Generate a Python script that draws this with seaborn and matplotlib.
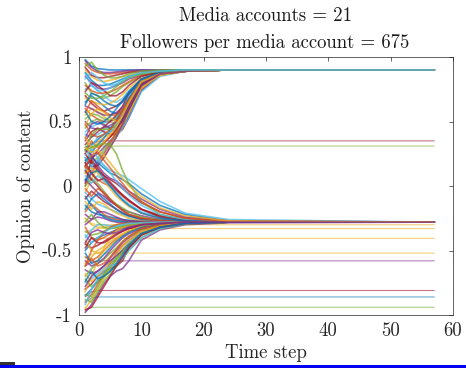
import numpy as np
import pandas as pd
import matplotlib.pyplot as plt
import seaborn as sns
from matplotlib.patches import Rectangle

steps = [1, 2, 3, 4, 5, 6, 7, 8, 10, 13, 17, 24, 57]

# paths that end in the upper cluster (~0.9)
top_paths = [
    [0.98, 0.93, 0.91, 0.905, 0.90, 0.90, 0.90, 0.90, 0.90, 0.90, 0.90, 0.90, 0.90],
    [0.95, 0.90, 0.88, 0.87, 0.87, 0.875, 0.88, 0.885, 0.89, 0.895, 0.90, 0.90, 0.90],
    [0.90, 0.85, 0.82, 0.81, 0.82, 0.83, 0.85, 0.86, 0.88, 0.89, 0.90, 0.90, 0.90],
    [0.85, 0.80, 0.76, 0.75, 0.76, 0.78, 0.80, 0.83, 0.86, 0.885, 0.895, 0.90, 0.90],
    [0.80, 0.72, 0.70, 0.68, 0.70, 0.73, 0.77, 0.80, 0.85, 0.88, 0.895, 0.90, 0.90],
    [0.75, 0.78, 0.74, 0.70, 0.66, 0.65, 0.68, 0.74, 0.82, 0.87, 0.89, 0.90, 0.90],
    [0.70, 0.64, 0.60, 0.58, 0.60, 0.62, 0.66, 0.72, 0.81, 0.87, 0.89, 0.90, 0.90],
    [0.65, 0.70, 0.66, 0.62, 0.58, 0.56, 0.58, 0.65, 0.78, 0.86, 0.89, 0.90, 0.90],
    [0.60, 0.55, 0.52, 0.50, 0.50, 0.52, 0.57, 0.66, 0.80, 0.87, 0.89, 0.90, 0.90],
    [0.55, 0.60, 0.58, 0.54, 0.50, 0.48, 0.50, 0.60, 0.78, 0.86, 0.89, 0.90, 0.90],
    [0.50, 0.45, 0.44, 0.45, 0.47, 0.50, 0.55, 0.63, 0.79, 0.87, 0.89, 0.90, 0.90],
    [0.45, 0.50, 0.52, 0.48, 0.44, 0.42, 0.45, 0.55, 0.76, 0.86, 0.89, 0.90, 0.90],
    [0.40, 0.38, 0.40, 0.43, 0.46, 0.48, 0.52, 0.60, 0.78, 0.87, 0.89, 0.90, 0.90],
    [0.35, 0.42, 0.45, 0.42, 0.40, 0.40, 0.44, 0.53, 0.75, 0.86, 0.89, 0.90, 0.90],
    [0.30, 0.32, 0.36, 0.40, 0.42, 0.45, 0.50, 0.58, 0.77, 0.87, 0.89, 0.90, 0.90],
    [0.25, 0.35, 0.30, 0.33, 0.38, 0.42, 0.48, 0.56, 0.76, 0.86, 0.89, 0.90, 0.90],
    [0.20, 0.28, 0.34, 0.38, 0.40, 0.43, 0.47, 0.55, 0.75, 0.86, 0.89, 0.90, 0.90],
    [0.15, 0.22, 0.25, 0.30, 0.35, 0.40, 0.46, 0.54, 0.74, 0.86, 0.89, 0.90, 0.90],
    [0.10, 0.18, 0.22, 0.28, 0.34, 0.40, 0.48, 0.57, 0.77, 0.87, 0.89, 0.90, 0.90],
    [0.05, 0.12, 0.20, 0.26, 0.32, 0.38, 0.45, 0.53, 0.73, 0.85, 0.89, 0.90, 0.90],
    [0.92, 0.86, 0.84, 0.84, 0.85, 0.86, 0.87, 0.88, 0.89, 0.895, 0.90, 0.90, 0.90],
    [0.88, 0.82, 0.78, 0.78, 0.79, 0.81, 0.83, 0.85, 0.87, 0.89, 0.90, 0.90, 0.90],
    [0.78, 0.74, 0.72, 0.72, 0.73, 0.75, 0.78, 0.81, 0.86, 0.885, 0.895, 0.90, 0.90],
    [0.68, 0.66, 0.64, 0.63, 0.64, 0.67, 0.71, 0.76, 0.83, 0.875, 0.895, 0.90, 0.90],
    [0.62, 0.60, 0.57, 0.55, 0.55, 0.57, 0.61, 0.68, 0.80, 0.87, 0.89, 0.90, 0.90],
    [0.52, 0.56, 0.55, 0.52, 0.51, 0.53, 0.58, 0.67, 0.81, 0.87, 0.89, 0.90, 0.90],
    [0.42, 0.46, 0.48, 0.49, 0.50, 0.54, 0.60, 0.70, 0.82, 0.87, 0.89, 0.90, 0.90],
    [0.32, 0.38, 0.42, 0.46, 0.50, 0.55, 0.62, 0.72, 0.83, 0.88, 0.89, 0.90, 0.90],
    [0.18, 0.26, 0.32, 0.37, 0.44, 0.51, 0.59, 0.68, 0.81, 0.87, 0.89, 0.90, 0.90],
    [0.00, 0.10, 0.18, 0.25, 0.33, 0.42, 0.52, 0.62, 0.79, 0.87, 0.89, 0.90, 0.90],
    [-0.05, 0.05, 0.15, 0.22, 0.30, 0.38, 0.47, 0.57, 0.76, 0.86, 0.89, 0.90, 0.90],
    [0.97, 0.92, 0.89, 0.88, 0.88, 0.885, 0.89, 0.895, 0.90, 0.90, 0.90, 0.90, 0.90],
    [0.93, 0.96, 0.90, 0.86, 0.84, 0.84, 0.85, 0.87, 0.89, 0.90, 0.90, 0.90, 0.90],
    [0.83, 0.88, 0.84, 0.80, 0.78, 0.79, 0.81, 0.84, 0.87, 0.89, 0.90, 0.90, 0.90],
    [0.73, 0.80, 0.78, 0.74, 0.70, 0.70, 0.73, 0.78, 0.85, 0.885, 0.895, 0.90, 0.90],
    [0.63, 0.72, 0.70, 0.66, 0.63, 0.62, 0.65, 0.71, 0.82, 0.875, 0.895, 0.90, 0.90],
    [0.57, 0.66, 0.62, 0.58, 0.55, 0.55, 0.59, 0.66, 0.80, 0.87, 0.89, 0.90, 0.90],
    [0.47, 0.56, 0.60, 0.57, 0.53, 0.50, 0.53, 0.61, 0.78, 0.86, 0.89, 0.90, 0.90],
    [0.37, 0.48, 0.50, 0.47, 0.45, 0.46, 0.51, 0.60, 0.78, 0.87, 0.89, 0.90, 0.90],
    [0.27, 0.40, 0.44, 0.44, 0.44, 0.47, 0.53, 0.63, 0.80, 0.87, 0.89, 0.90, 0.90],
    [0.12, 0.30, 0.38, 0.40, 0.42, 0.46, 0.53, 0.63, 0.80, 0.87, 0.89, 0.90, 0.90],
    [0.02, 0.20, 0.28, 0.34, 0.38, 0.44, 0.52, 0.62, 0.79, 0.87, 0.89, 0.90, 0.90],
    [0.58, 0.50, 0.48, 0.50, 0.54, 0.60, 0.66, 0.73, 0.83, 0.88, 0.895, 0.90, 0.90],
    [0.48, 0.40, 0.38, 0.40, 0.44, 0.50, 0.58, 0.67, 0.81, 0.87, 0.89, 0.90, 0.90],
    [0.38, 0.30, 0.30, 0.34, 0.40, 0.46, 0.55, 0.65, 0.81, 0.87, 0.89, 0.90, 0.90],
    [0.22, 0.15, 0.16, 0.22, 0.30, 0.38, 0.48, 0.59, 0.78, 0.87, 0.89, 0.90, 0.90],
    [0.72, 0.68, 0.68, 0.70, 0.73, 0.77, 0.81, 0.84, 0.87, 0.89, 0.90, 0.90, 0.90],
    [0.87, 0.78, 0.74, 0.74, 0.76, 0.79, 0.82, 0.85, 0.88, 0.89, 0.90, 0.90, 0.90],
]

# paths that end in the lower cluster (~-0.28)
bottom_paths = [
    [0.25, 0.18, 0.12, 0.08, 0.05, 0.02, -0.02, -0.06, -0.13, -0.20, -0.25, -0.275, -0.28],
    [0.20, 0.22, 0.18, 0.14, 0.10, 0.08, 0.05, 0.02, -0.06, -0.15, -0.22, -0.27, -0.28],
    [0.15, 0.10, 0.05, 0.02, 0.00, -0.04, -0.08, -0.12, -0.18, -0.23, -0.26, -0.275, -0.28],
    [0.10, 0.14, 0.10, 0.04, -0.02, -0.08, -0.12, -0.16, -0.21, -0.25, -0.27, -0.28, -0.28],
    [0.05, 0.00, -0.05, -0.08, -0.12, -0.15, -0.18, -0.20, -0.23, -0.26, -0.275, -0.28, -0.28],
    [0.00, 0.06, 0.02, -0.04, -0.10, -0.14, -0.17, -0.20, -0.24, -0.265, -0.275, -0.28, -0.28],
    [-0.05, -0.10, -0.14, -0.16, -0.18, -0.20, -0.22, -0.24, -0.26, -0.27, -0.28, -0.28, -0.28],
    [-0.10, -0.04, -0.08, -0.12, -0.15, -0.18, -0.21, -0.23, -0.255, -0.27, -0.28, -0.28, -0.28],
    [-0.15, -0.20, -0.22, -0.23, -0.24, -0.25, -0.26, -0.265, -0.27, -0.28, -0.28, -0.28, -0.28],
    [-0.20, -0.14, -0.18, -0.22, -0.25, -0.26, -0.27, -0.275, -0.28, -0.28, -0.28, -0.28, -0.28],
    [-0.25, -0.30, -0.32, -0.32, -0.31, -0.30, -0.295, -0.29, -0.285, -0.28, -0.28, -0.28, -0.28],
    [-0.30, -0.26, -0.24, -0.25, -0.27, -0.28, -0.285, -0.285, -0.283, -0.28, -0.28, -0.28, -0.28],
    [-0.35, -0.38, -0.37, -0.35, -0.33, -0.32, -0.31, -0.30, -0.29, -0.285, -0.28, -0.28, -0.28],
    [-0.40, -0.34, -0.30, -0.30, -0.31, -0.31, -0.30, -0.295, -0.29, -0.285, -0.28, -0.28, -0.28],
    [-0.45, -0.48, -0.46, -0.43, -0.40, -0.37, -0.35, -0.33, -0.31, -0.29, -0.285, -0.28, -0.28],
    [-0.50, -0.44, -0.40, -0.38, -0.36, -0.34, -0.33, -0.32, -0.30, -0.29, -0.28, -0.28, -0.28],
    [-0.55, -0.58, -0.55, -0.50, -0.45, -0.41, -0.38, -0.35, -0.32, -0.30, -0.285, -0.28, -0.28],
    [-0.60, -0.55, -0.50, -0.47, -0.43, -0.40, -0.37, -0.35, -0.32, -0.30, -0.285, -0.28, -0.28],
    [-0.65, -0.68, -0.66, -0.62, -0.56, -0.50, -0.44, -0.40, -0.34, -0.31, -0.29, -0.28, -0.28],
    [-0.70, -0.64, -0.60, -0.57, -0.52, -0.48, -0.43, -0.39, -0.34, -0.31, -0.29, -0.28, -0.28],
    [-0.75, -0.72, -0.68, -0.64, -0.60, -0.55, -0.49, -0.43, -0.36, -0.32, -0.29, -0.28, -0.28],
    [-0.80, -0.76, -0.70, -0.66, -0.64, -0.62, -0.58, -0.48, -0.38, -0.32, -0.295, -0.28, -0.28],
    [-0.85, -0.80, -0.74, -0.70, -0.66, -0.62, -0.55, -0.47, -0.37, -0.32, -0.29, -0.28, -0.28],
    [-0.90, -0.84, -0.76, -0.68, -0.60, -0.52, -0.46, -0.42, -0.35, -0.31, -0.29, -0.28, -0.28],
    [-0.95, -0.88, -0.80, -0.72, -0.64, -0.58, -0.52, -0.46, -0.38, -0.32, -0.29, -0.28, -0.28],
    [-0.98, -0.92, -0.84, -0.76, -0.70, -0.66, -0.64, -0.58, -0.42, -0.34, -0.30, -0.285, -0.28],
    [-0.88, -0.90, -0.82, -0.74, -0.68, -0.62, -0.56, -0.50, -0.40, -0.33, -0.295, -0.28, -0.28],
    [0.22, 0.15, 0.20, 0.16, 0.12, 0.10, 0.08, 0.05, -0.02, -0.12, -0.21, -0.26, -0.28],
    [0.12, 0.05, 0.00, -0.06, -0.11, -0.15, -0.19, -0.22, -0.25, -0.27, -0.28, -0.28, -0.28],
    [-0.08, -0.15, -0.20, -0.24, -0.26, -0.27, -0.275, -0.28, -0.28, -0.28, -0.28, -0.28, -0.28],
    [-0.32, -0.40, -0.42, -0.40, -0.37, -0.34, -0.32, -0.31, -0.295, -0.285, -0.28, -0.28, -0.28],
    [-0.42, -0.50, -0.52, -0.50, -0.46, -0.42, -0.38, -0.35, -0.31, -0.29, -0.285, -0.28, -0.28],
    [-0.58, -0.62, -0.60, -0.56, -0.50, -0.45, -0.40, -0.37, -0.33, -0.30, -0.285, -0.28, -0.28],
    [-0.72, -0.78, -0.74, -0.68, -0.62, -0.56, -0.50, -0.45, -0.37, -0.32, -0.29, -0.28, -0.28],
    [0.08, 0.02, 0.08, 0.04, 0.00, -0.05, -0.10, -0.14, -0.20, -0.24, -0.265, -0.28, -0.28],
    [0.18, 0.10, 0.04, 0.06, 0.02, -0.03, -0.07, -0.11, -0.18, -0.23, -0.26, -0.275, -0.28],
    [-0.18, -0.10, -0.06, -0.10, -0.14, -0.18, -0.21, -0.23, -0.26, -0.275, -0.28, -0.28, -0.28],
    [-0.62, -0.50, -0.42, -0.36, -0.32, -0.30, -0.29, -0.285, -0.28, -0.28, -0.28, -0.28, -0.28],
    [-0.82, -0.70, -0.58, -0.48, -0.40, -0.35, -0.32, -0.30, -0.29, -0.28, -0.28, -0.28, -0.28],
    [0.28, 0.24, 0.16, 0.10, 0.06, 0.04, 0.00, -0.04, -0.10, -0.18, -0.24, -0.27, -0.28],
    [0.28, 0.30, 0.32, 0.33, 0.32, 0.25, 0.12, 0.02, -0.12, -0.22, -0.26, -0.28, -0.28],
    [0.24, 0.28, 0.22, 0.16, 0.10, 0.04, -0.02, -0.07, -0.15, -0.22, -0.26, -0.28, -0.28],
    [0.16, 0.20, 0.14, 0.08, 0.03, -0.02, -0.07, -0.11, -0.18, -0.24, -0.27, -0.28, -0.28],
    [0.04, 0.10, 0.12, 0.06, 0.00, -0.06, -0.11, -0.15, -0.21, -0.25, -0.27, -0.28, -0.28],
    [-0.02, -0.08, -0.02, -0.05, -0.10, -0.15, -0.19, -0.22, -0.25, -0.27, -0.28, -0.28, -0.28],
    [-0.12, -0.18, -0.12, -0.14, -0.18, -0.21, -0.23, -0.25, -0.27, -0.28, -0.28, -0.28, -0.28],
    [-0.22, -0.26, -0.20, -0.20, -0.22, -0.24, -0.26, -0.27, -0.275, -0.28, -0.28, -0.28, -0.28],
    [-0.28, -0.22, -0.28, -0.32, -0.33, -0.32, -0.31, -0.30, -0.29, -0.285, -0.28, -0.28, -0.28],
    [-0.38, -0.44, -0.40, -0.36, -0.33, -0.31, -0.30, -0.29, -0.285, -0.28, -0.28, -0.28, -0.28],
    [-0.48, -0.40, -0.44, -0.44, -0.41, -0.38, -0.35, -0.33, -0.30, -0.29, -0.28, -0.28, -0.28],
    [-0.52, -0.60, -0.58, -0.53, -0.48, -0.43, -0.39, -0.36, -0.32, -0.30, -0.285, -0.28, -0.28],
    [-0.62, -0.56, -0.62, -0.60, -0.55, -0.49, -0.43, -0.39, -0.33, -0.30, -0.285, -0.28, -0.28],
    [-0.68, -0.74, -0.70, -0.65, -0.59, -0.53, -0.47, -0.42, -0.35, -0.31, -0.29, -0.28, -0.28],
    [-0.78, -0.70, -0.66, -0.62, -0.58, -0.54, -0.50, -0.45, -0.37, -0.32, -0.29, -0.28, -0.28],
    [-0.84, -0.86, -0.78, -0.70, -0.63, -0.57, -0.51, -0.45, -0.37, -0.32, -0.29, -0.28, -0.28],
    [-0.92, -0.80, -0.72, -0.66, -0.62, -0.60, -0.56, -0.50, -0.40, -0.33, -0.29, -0.28, -0.28],
    [-0.96, -0.94, -0.86, -0.78, -0.70, -0.62, -0.55, -0.48, -0.38, -0.32, -0.29, -0.28, -0.28],
    [-0.74, -0.66, -0.72, -0.70, -0.66, -0.60, -0.53, -0.46, -0.37, -0.32, -0.29, -0.28, -0.28],
    [0.14, 0.24, 0.26, 0.20, 0.14, 0.08, 0.02, -0.04, -0.12, -0.20, -0.25, -0.275, -0.28],
    [0.30, 0.26, 0.28, 0.24, 0.18, 0.12, 0.06, 0.00, -0.08, -0.17, -0.23, -0.27, -0.28],
    [-0.44, -0.36, -0.34, -0.36, -0.37, -0.36, -0.34, -0.32, -0.30, -0.29, -0.28, -0.28, -0.28],
]

# accounts that stay apart from both clusters
stray_paths = [
    [0.28, 0.33, 0.345, 0.35, 0.35, 0.35, 0.35, 0.35, 0.35, 0.35, 0.35, 0.35, 0.35],
    [0.26, 0.30, 0.31, 0.31, 0.31, 0.31, 0.31, 0.31, 0.31, 0.31, 0.31, 0.31, 0.31],
    [-0.25, -0.29, -0.30, -0.30, -0.30, -0.30, -0.30, -0.30, -0.30, -0.30, -0.30, -0.30, -0.30],
    [-0.36, -0.34, -0.33, -0.33, -0.33, -0.33, -0.33, -0.33, -0.33, -0.33, -0.33, -0.33, -0.33],
    [-0.45, -0.41, -0.405, -0.405, -0.405, -0.405, -0.405, -0.405, -0.405, -0.405, -0.405, -0.405, -0.405],
    [-0.56, -0.53, -0.52, -0.52, -0.52, -0.52, -0.52, -0.52, -0.52, -0.52, -0.52, -0.52, -0.52],
    [-0.62, -0.59, -0.58, -0.58, -0.58, -0.58, -0.58, -0.58, -0.58, -0.58, -0.58, -0.58, -0.58],
    [-0.86, -0.82, -0.81, -0.81, -0.81, -0.81, -0.81, -0.81, -0.81, -0.81, -0.81, -0.81, -0.81],
    [-0.90, -0.87, -0.86, -0.86, -0.86, -0.86, -0.86, -0.86, -0.86, -0.86, -0.86, -0.86, -0.86],
    [-0.97, -0.94, -0.94, -0.94, -0.94, -0.94, -0.94, -0.94, -0.94, -0.94, -0.94, -0.94, -0.94],
]
stray_colors = ["#a2142f", "#77ac30", "#edb120", "#edb120", "#edb120",
                "#edb120", "#7e2f8e", "#a2142f", "#0072bd", "#77ac30"]

# MATLAB default line colour order
matlab_colors = ["#0072bd", "#d95319", "#edb120", "#7e2f8e",
                 "#77ac30", "#4dbeee", "#a2142f"]

rows = []
palette = {}
k = 0
for group in [top_paths, bottom_paths]:
    for path in group:
        for t, v in zip(steps, path):
            rows.append((k, t, v))
        palette[k] = matlab_colors[k % len(matlab_colors)]
        k += 1
df = pd.DataFrame(rows, columns=["line", "t", "opinion"])

stray_rows = []
stray_palette = {}
for j, (path, col) in enumerate(zip(stray_paths, stray_colors)):
    for t, v in zip(steps, path):
        stray_rows.append((j, t, v))
    stray_palette[j] = col
df_stray = pd.DataFrame(stray_rows, columns=["line", "t", "opinion"])

sns.set_style("white")
plt.rcParams["font.family"] = ["cmr10"]
plt.rcParams["axes.unicode_minus"] = False
plt.rcParams["axes.formatter.use_mathtext"] = True

fs = 13.5
fig = plt.figure(figsize=(4.66, 3.68), dpi=100)
ax = fig.add_axes([0.1695, 0.144, 0.8025, 0.701])

sns.lineplot(data=df_stray, x="t", y="opinion", hue="line", palette=stray_palette,
             estimator=None, legend=False, linewidth=0.8, alpha=0.6, ax=ax)
sns.lineplot(data=df, x="t", y="opinion", hue="line", palette=palette,
             estimator=None, legend=False, linewidth=1.2, alpha=0.75, ax=ax)

ax.set_xlim(0, 60)
ax.set_ylim(-1, 1)
ax.set_xticks([0, 10, 20, 30, 40, 50, 60])
ax.set_xticklabels(["0", "10", "20", "30", "40", "50", "60"])
ax.set_yticks([-1, -0.5, 0, 0.5, 1])
ax.set_yticklabels(["-1", "-0.5", "0", "0.5", "1"])
ax.tick_params(direction="in", length=3, width=0.5, colors="0.15",
               top=True, right=True, labelsize=fs)
ax.tick_params(axis="x", pad=5)
ax.tick_params(axis="y", pad=5)
for s in ax.spines.values():
    s.set_color("0.15")
    s.set_linewidth(0.5)

ax.set_xlabel("Time step", fontsize=fs, color="0.15")
ax.set_ylabel("Opinion of content", fontsize=fs, color="0.15")
ax.xaxis.set_label_coords(0.5, -(344 - 315) / 258)
ax.yaxis.set_label_coords(-(79 - 35) / 374, 0.5)

fig.text(0.569, 1 - 16 / 368, "Media accounts = 21", ha="center", va="center",
         fontsize=fs, color="0.1")
fig.text(0.569, 1 - 43 / 368, "Followers per media account = 675", ha="center",
         va="center", fontsize=fs, color="0.1")

# screen-capture strip along the bottom edge
fig.patches.append(Rectangle((0, 0), 1, 3.5 / 368, transform=fig.transFigure,
                             facecolor="#0000f0", edgecolor="none"))
fig.patches.append(Rectangle((0, 3.5 / 368), 15 / 466, 3 / 368,
                             transform=fig.transFigure, facecolor="#333333",
                             edgecolor="none"))

fig.savefig("out.png", dpi=100)
